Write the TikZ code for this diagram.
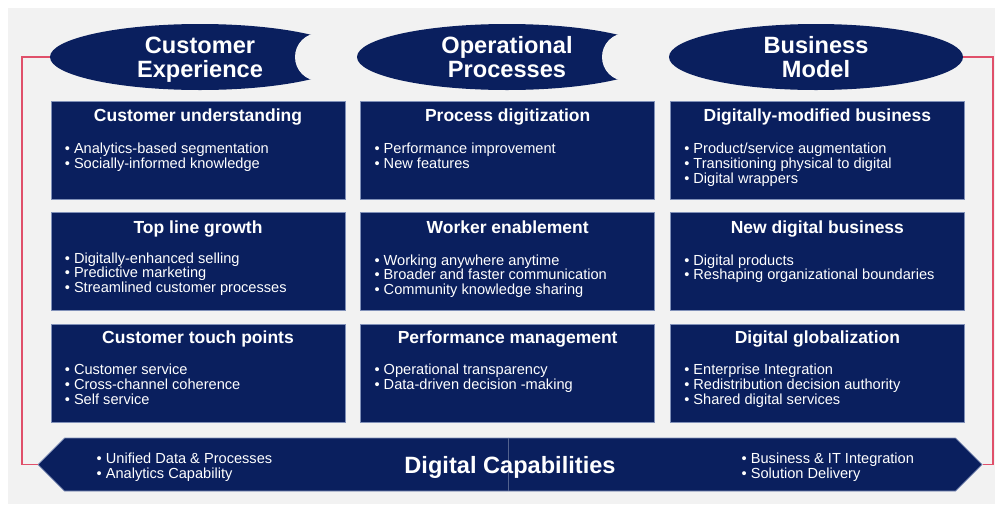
\documentclass[tikz,border=0pt]{standalone}
\usepackage{fontspec}
\setmainfont{Liberation Sans}
\usepackage{tikz}
\usetikzlibrary{positioning,shapes.geometric,shapes.symbols}
\definecolor{navy}{HTML}{0A1F5E}
\definecolor{bggray}{HTML}{F2F2F2}
\definecolor{linkred}{HTML}{E0506A}
\definecolor{edgeblue}{HTML}{8090B8}

\begin{document}
\begin{tikzpicture}[x=1pt,y=-1pt]
\tikzstyle{head}=[ellipse, minimum width=300pt, minimum height=66pt, inner sep=0pt, fill=navy, text=white, font=\bfseries\fontsize{23.6}{24}\selectfont, align=center, text depth=0pt]
\tikzstyle{panel}=[rectangle, minimum width=294pt, minimum height=98pt, fill=navy, draw=edgeblue, line width=0.7pt]
\tikzstyle{title}=[text=white, font=\bfseries\fontsize{17.5}{20}\selectfont, inner sep=0pt, anchor=base]
\tikzstyle{items}=[text=white, font=\fontsize{14.6}{14.8}\selectfont, align=left, anchor=north west, inner sep=0pt]
\tikzstyle{notch}=[fill=bggray]
\tikzstyle{connect}=[linkred, line width=1.4pt]
\useasboundingbox (0,0) rectangle (995,504);
\fill[white] (0,0) rectangle (995,504);
\fill[bggray] (8,8) rectangle (995,504);

	% headers
	\node[head] (e_1) at (200,57) {Customer\\Experience};
	\fill[notch] (319,57) circle (24pt);
	\fill[notch] (319,31) rectangle (354,83);
	\node[head] (e_2) at (507,57) {Operational\\Processes};
	\fill[notch] (626,57) circle (24pt);
	\fill[notch] (626,31) rectangle (662,83);
	\node[head, minimum width=294pt] (e_3) at (816,57) {Business\\Model};

	% panels
	\node[panel] (b_11) at (198,150) {};
	\node[panel, right=15pt of b_11] (b_12) {};
	\node[panel, right=15pt of b_12] (b_13) {};
	\node[panel, below=13pt of b_11] (b_21) {};
	\node[panel, right=15pt of b_21] (b_22) {};
	\node[panel, right=15pt of b_22] (b_23) {};
	\node[panel, below=13pt of b_21] (b_31) {};
	\node[panel, right=15pt of b_31] (b_32) {};
	\node[panel, right=15pt of b_32] (b_33) {};

	\node[title] (t_11) at ([yshift=-21pt]b_11.north) {Customer understanding};
	\node[items] (l_11) at ([xshift=14pt,yshift=-42pt]b_11.north west) {• Analytics-based segmentation\\• Socially-informed knowledge};
	\node[title] (t_21) at ([yshift=-21pt]b_21.north) {Top line growth};
	\node[items] (l_21) at ([xshift=14pt,yshift=-40pt]b_21.north west) {• Digitally-enhanced selling\\• Predictive marketing\\• Streamlined customer processes};
	\node[title] (t_31) at ([yshift=-19pt]b_31.north) {Customer touch points};
	\node[items] (l_31) at ([xshift=14pt,yshift=-40pt]b_31.north west) {• Customer service\\• Cross-channel coherence\\• Self service};

	\node[title] (t_12) at ([yshift=-21pt]b_12.north) {Process digitization};
	\node[items] (l_12) at ([xshift=14pt,yshift=-42pt]b_12.north west) {• Performance improvement\\• New features};
	\node[title] (t_22) at ([yshift=-21pt]b_22.north) {Worker enablement};
	\node[items] (l_22) at ([xshift=14pt,yshift=-42pt]b_22.north west) {• Working anywhere anytime\\• Broader and faster communication\\• Community knowledge sharing};
	\node[title] (t_32) at ([yshift=-19pt]b_32.north) {Performance management};
	\node[items] (l_32) at ([xshift=14pt,yshift=-40pt]b_32.north west) {• Operational transparency\\• Data-driven decision -making};

	\node[title] (t_13) at ([yshift=-21pt]b_13.north) {Digitally-modified business};
	\node[items] (l_13) at ([xshift=14pt,yshift=-42pt]b_13.north west) {• Product/service augmentation\\• Transitioning physical to digital\\• Digital wrappers};
	\node[title] (t_23) at ([yshift=-21pt]b_23.north) {New digital business};
	\node[items] (l_23) at ([xshift=14pt,yshift=-42pt]b_23.north west) {• Digital products\\• Reshaping organizational boundaries};
	\node[title] (t_33) at ([yshift=-19pt]b_33.north) {Digital globalization};
	\node[items] (l_33) at ([xshift=14pt,yshift=-40pt]b_33.north west) {• Enterprise Integration\\• Redistribution decision authority\\• Shared digital services};

	% capabilities banner
	\node[signal, signal to=west and east, signal pointer angle=90, minimum width=944pt, minimum height=53pt, inner sep=0pt, fill=navy, draw=edgeblue, line width=0.7pt] (d_c) at (510,464.5) {};
	\draw[navy!70!white, line width=0.5pt] ([xshift=-2pt]d_c.north) -- ([xshift=-2pt]d_c.south);
	\node[text=white, text depth=0pt, inner sep=0pt, font=\bfseries\fontsize{23.6}{24}\selectfont] (t_dc) at (d_c) {Digital Capabilities};
	\node[items, anchor=west] (l_dl) at ([xshift=59pt,yshift=-3pt]d_c.west) {• Unified Data \& Processes\\• Analytics Capability};
	\node[items, anchor=west] (l_dr) at ([xshift=-241pt,yshift=-3pt]d_c.east) {• Business \& IT Integration\\• Solution Delivery};

	% links
	\coordinate (l_c) at (22,57);
	\coordinate (r_c) at (993,57);
	\draw[connect] (e_1.west) -- (l_c) |- (d_c.west);
	\draw[connect] (e_3.east) -- (r_c) |- (d_c.east);
\end{tikzpicture}
\end{document}
